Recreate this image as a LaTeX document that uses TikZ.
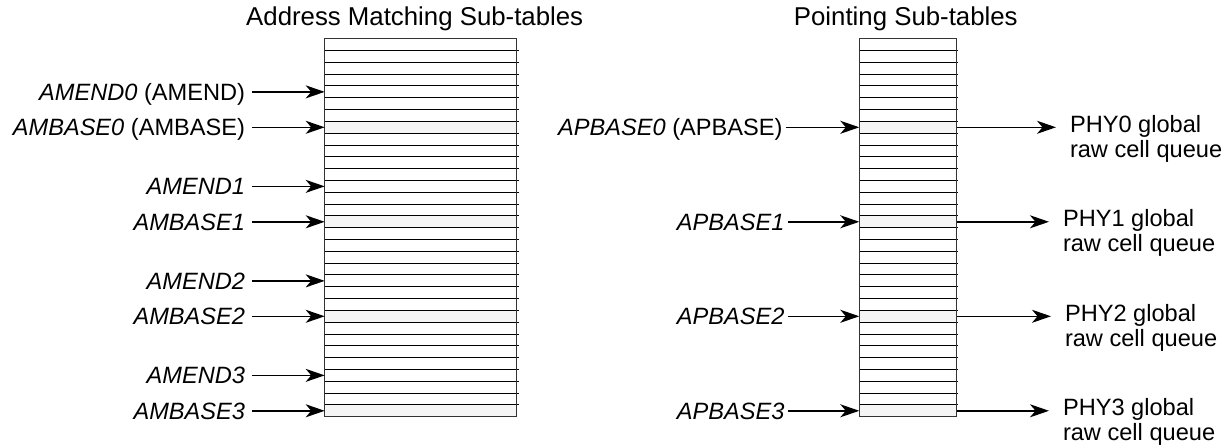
\documentclass[tikz,border=0pt]{standalone}
\usepackage{fontspec}
\setmainfont{Liberation Sans}
\usetikzlibrary{arrows.meta}
\begin{document}
\begin{tikzpicture}[x=1pt,y=-1pt,
  lbl/.style={inner sep=0pt, font=\fontsize{23.6}{25}\selectfont},
  inl/.style={lbl, anchor=base east, outer xsep=7pt},
  inr/.style={lbl, anchor=base east, outer xsep=3pt},
  outl/.style={lbl, anchor=base west, outer xsep=14pt, align=left},
  ttl/.style={inner sep=0pt, font=\fontsize{25.8}{28}\selectfont, anchor=base},
  arr/.style={line width=1.5pt, -{Stealth[length=19pt,width=13pt,inset=5.5pt]}},
  rowline/.style={line width=1.3pt, draw=black},
  tblframe/.style={line width=1.5pt, draw=black!80},
  shade/.style={fill=black!4}]
\useasboundingbox (0,0) rectangle (1231,447);

% titles
\node[ttl] (t1) at (414.7,25) {Address Matching Sub-tables};
\node[ttl] (t2) at (905.8,25) {Pointing Sub-tables};

% left table
\foreach \k in {8,16,24,32}
  \fill[shade] (324.7,{38.7+(\k-1)*11.8125}) rectangle (516.7,{38.7+\k*11.8125});
\foreach \k in {1,...,31}{
  \pgfmathsetmacro\yy{floor(38.7+\k*11.8125)+0.5}
  \draw[rowline] (324.7,\yy) -- (518.7,\yy);
}
\draw[tblframe] (324.7,38.7) rectangle (516.7,416.7);

% right table
\foreach \k in {8,16,24,32}
  \fill[shade] (859.3,{38.7+(\k-1)*11.8125}) rectangle (956.7,{38.7+\k*11.8125});
\foreach \k in {1,...,31}{
  \pgfmathsetmacro\yy{floor(38.7+\k*11.8125)+0.5}
  \draw[rowline] (859.3,\yy) -- (958.3,\yy);
}
\draw[tblframe] (859.3,38.7) rectangle (956.7,416.7);

% row entry points
\coordinate (L5)  at (324.7,91.86);
\coordinate (L8)  at (324.7,127.29);
\coordinate (L13) at (324.7,186.36);
\coordinate (L16) at (324.7,221.79);
\coordinate (L21) at (324.7,280.86);
\coordinate (L24) at (324.7,316.29);
\coordinate (L29) at (324.7,375.36);
\coordinate (L32) at (324.7,410.79);
\coordinate (R8)  at (859.3,127.29);
\coordinate (R16) at (859.3,221.79);
\coordinate (R24) at (859.3,316.29);
\coordinate (R32) at (859.3,410.79);
\coordinate (E8)  at (956.7,127.29);
\coordinate (E16) at (956.7,221.79);
\coordinate (E24) at (956.7,316.29);
\coordinate (E32) at (956.7,410.79);

% left labels
\node[inl] (amend0)  at (252,{91.86+8.45})  {\textit{AMEND0} (AMEND)};
\node[inl] (ambase0) at (252,{127.29+8.45}) {\textit{AMBASE0} (AMBASE)};
\node[inl] (amend1)  at (252,{186.36+8.45}) {\textit{AMEND1}};
\node[inl] (ambase1) at (252,{221.79+8.45}) {\textit{AMBASE1}};
\node[inl] (amend2)  at (252,{280.86+8.45}) {\textit{AMEND2}};
\node[inl] (ambase2) at (252,{316.29+8.45}) {\textit{AMBASE2}};
\node[inl] (amend3)  at (252,{375.36+8.45}) {\textit{AMEND3}};
\node[inl] (ambase3) at (252,{410.79+8.45}) {\textit{AMBASE3}};

\draw[arr] (amend0.east |- L5) -- (L5);
\draw[arr] (ambase0.east |- L8) -- (L8);
\draw[arr] (amend1.east |- L13) -- (L13);
\draw[arr] (ambase1.east |- L16) -- (L16);
\draw[arr] (amend2.east |- L21) -- (L21);
\draw[arr] (ambase2.east |- L24) -- (L24);
\draw[arr] (amend3.east |- L29) -- (L29);
\draw[arr] (ambase3.east |- L32) -- (L32);

% right labels
\node[inr] (apbase0) at (785.5,{127.29+8.45}) {\textit{APBASE0} (APBASE)};
\node[inr] (apbase1) at (787.5,{221.79+8.45}) {\textit{APBASE1}};
\node[inr] (apbase2) at (787.5,{316.29+8.45}) {\textit{APBASE2}};
\node[inr] (apbase3) at (787.5,{410.79+8.45}) {\textit{APBASE3}};

\draw[arr] (apbase0.east |- R8) -- (R8);
\draw[arr] (apbase1.east |- R16) -- (R16);
\draw[arr] (apbase2.east |- R24) -- (R24);
\draw[arr] (apbase3.east |- R32) -- (R32);

% outputs (base anchor = baseline of the last line)
\node[outl] (phy0) at (1056,{127.29+30}) {PHY0 global\\raw cell queue};
\node[outl] (phy1) at (1049,{221.79+30}) {PHY1 global\\raw cell queue};
\node[outl] (phy2) at (1051,{316.29+30}) {PHY2 global\\raw cell queue};
\node[outl] (phy3) at (1049,{410.79+30}) {PHY3 global\\raw cell queue};

\draw[arr] (E8) -- (phy0.west |- E8);
\draw[arr] (E16) -- (phy1.west |- E16);
\draw[arr] (E24) -- (phy2.west |- E24);
\draw[arr] (E32) -- (phy3.west |- E32);
\end{tikzpicture}
\end{document}
